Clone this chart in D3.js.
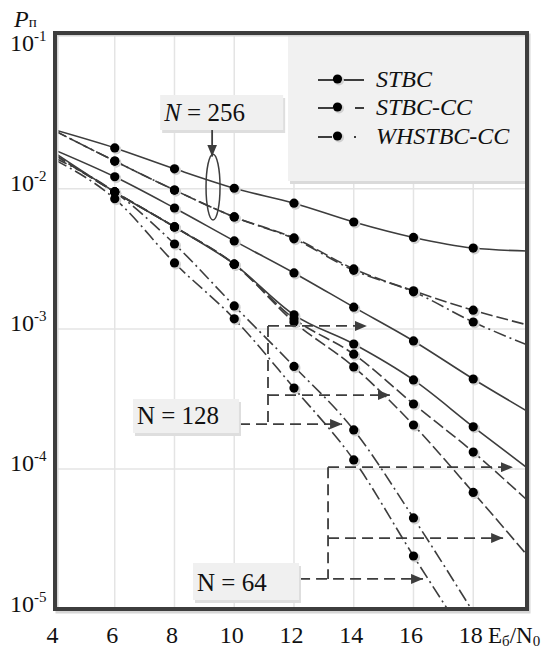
<!DOCTYPE html>
<html>
<head>
<meta charset="utf-8">
<script src="https://cdn.jsdelivr.net/npm/d3@7"></script>
<style>
  body { margin: 0; background: #fff; }
  text { font-family: "Liberation Serif", "Times New Roman", serif; fill: #111; }
</style>
</head>
<body>
<svg id="chart"></svg>
<script>
// Eb/N0 sample points (19.8 = right edge of the frame)
const snr = [4, 6, 8, 10, 12, 14, 16, 18, 19.8];

// N = 256
const stbc256 = [2.63e-2, 1.96e-2, 1.39e-2, 1.01e-2, 7.9e-3, 5.8e-3, 4.5e-3, 3.78e-3, 3.6e-3];
const stbcCC256 = [2.59e-2, 1.58e-2, 9.8e-3, 6.3e-3, 4.46e-3, 2.68e-3, 1.87e-3, 1.36e-3, 1.07e-3];
const whstbc256 = [2.59e-2, 1.58e-2, 9.8e-3, 6.3e-3, 4.4e-3, 2.62e-3, 1.84e-3, 1.12e-3, 7.7e-4];
// N = 128
const stbc128 = [1.89e-2, 1.22e-2, 7.3e-3, 4.25e-3, 2.51e-3, 1.43e-3, 8.2e-4, 4.39e-4, 2.59e-4];
const stbcCC128 = [1.74e-2, 9.5e-3, 5.35e-3, 2.9e-3, 1.18e-3, 6.6e-4, 2.91e-4, 1.32e-4, 6.0e-5];
const whstbc128 = [1.66e-2, 9.5e-3, 4.04e-3, 1.46e-3, 5.4e-4, 1.9e-4, 4.47e-5, 9.5e-6, null];
// N = 64
const stbc64 = [1.8e-2, 9.5e-3, 5.35e-3, 2.9e-3, 1.26e-3, 7.8e-4, 4.32e-4, 2.0e-4, 1.02e-4];
const stbcCC64 = [1.74e-2, 9.5e-3, 5.35e-3, 2.9e-3, 1.12e-3, 5.35e-4, 2.06e-4, 6.8e-5, 2.43e-5];
const whstbc64 = [1.61e-2, 8.5e-3, 2.96e-3, 1.18e-3, 3.78e-4, 1.16e-4, 2.39e-5, 5.2e-6, null];

const xTicks = [4, 6, 8, 10, 12, 14, 16, 18];
const yTicks = [1e-5, 1e-4, 1e-3, 1e-2, 1e-1];
const yExponents = ["-5", "-4", "-3", "-2", "-1"];
const schemes = ["STBC", "STBC-CC", "WHSTBC-CC"];

const width = 550;
const height = 650;
const ink = "#3d3d3d";

const dashes = { "STBC": null, "STBC-CC": "12,4", "WHSTBC-CC": "13,4,2,4" };

const series = [
  { scheme: "STBC", values: stbc256 },
  { scheme: "STBC-CC", values: stbcCC256 },
  { scheme: "WHSTBC-CC", values: whstbc256 },
  { scheme: "STBC", values: stbc128 },
  { scheme: "STBC-CC", values: stbcCC128 },
  { scheme: "WHSTBC-CC", values: whstbc128 },
  { scheme: "STBC", values: stbc64 },
  { scheme: "STBC-CC", values: stbcCC64 },
  { scheme: "WHSTBC-CC", values: whstbc64 }
];

// Scales
const x = d3.scaleLinear().domain([4, 19.8]).range([55, 527]);
const y = d3.scaleLog().domain([1e-5, Math.pow(10, -0.88)]).range([609, 32]);

const [plotLeft, plotRight] = x.range();
const [plotBottom, plotTop] = y.range();

const svg = d3.select("#chart").attr("width", width).attr("height", height);

const defs = svg.append("defs");
defs.append("clipPath").attr("id", "plot")
  .append("rect")
  .attr("x", plotLeft).attr("y", plotTop)
  .attr("width", plotRight - plotLeft).attr("height", plotBottom - plotTop);

defs.append("marker")
  .attr("id", "head")
  .attr("viewBox", "0 0 12 10")
  .attr("refX", 12).attr("refY", 5)
  .attr("markerWidth", 12).attr("markerHeight", 10)
  .attr("markerUnits", "userSpaceOnUse")
  .attr("orient", "auto")
  .append("path")
  .attr("d", "M0,0L12,5L0,10Z")
  .attr("fill", ink);

// Grid
svg.append("g")
  .selectAll("line")
  .data(xTicks.slice(1))
  .join("line")
  .attr("x1", (d) => x(d)).attr("x2", (d) => x(d))
  .attr("y1", plotTop).attr("y2", plotBottom)
  .attr("stroke", "#e4e4e4").attr("stroke-width", 1.5);

svg.append("g")
  .selectAll("line")
  .data([1e-4, 1e-3, 1e-2])
  .join("line")
  .attr("x1", plotLeft).attr("x2", plotRight)
  .attr("y1", (d) => y(d)).attr("y2", (d) => y(d))
  .attr("stroke", "#e4e4e4").attr("stroke-width", 1.5);

// Legend box (drawn under the curves, over the grid)
svg.append("rect")
  .attr("x", 290).attr("y", 35).attr("width", 237).attr("height", 149)
  .attr("fill", "#dadada");
svg.append("rect")
  .attr("x", 288).attr("y", 33).attr("width", 237).attr("height", 148)
  .attr("fill", "#f1f1f1");

// Curves
const line = d3.line()
  .defined((d) => d.v != null)
  .x((d) => x(d.x))
  .y((d) => y(d.v))
  .curve(d3.curveMonotoneX);

const curves = svg.append("g").attr("clip-path", "url(#plot)");

curves.selectAll("path")
  .data(series)
  .join("path")
  .attr("d", (s) => line(s.values.map((v, i) => ({ x: snr[i], v: v }))))
  .attr("fill", "none")
  .attr("stroke", ink)
  .attr("stroke-width", 1.6)
  .attr("stroke-dasharray", (s) => dashes[s.scheme]);

// Markers at 6..18 dB
const points = [];
series.forEach((s) => {
  s.values.forEach((v, i) => {
    if (v != null && snr[i] >= 6 && snr[i] <= 18 && v >= 1e-5) points.push({ x: snr[i], v: v });
  });
});

curves.selectAll("circle.shadow")
  .data(points)
  .join("circle")
  .attr("class", "shadow")
  .attr("cx", (d) => x(d.x) + 1.5)
  .attr("cy", (d) => y(d.v) + 1.5)
  .attr("r", 5)
  .attr("fill", "#d0d0d0");

curves.selectAll("circle.dot")
  .data(points)
  .join("circle")
  .attr("class", "dot")
  .attr("cx", (d) => x(d.x))
  .attr("cy", (d) => y(d.v))
  .attr("r", 4.6)
  .attr("fill", "#000");

// Frame
svg.append("rect")
  .attr("x", plotLeft + 2).attr("y", plotTop + 3)
  .attr("width", plotRight - plotLeft).attr("height", plotBottom - plotTop)
  .attr("fill", "none").attr("stroke", "#d6d6d6").attr("stroke-width", 3);
svg.append("rect")
  .attr("x", plotLeft).attr("y", plotTop + 1)
  .attr("width", plotRight - plotLeft).attr("height", plotBottom - plotTop - 1)
  .attr("fill", "none").attr("stroke", ink).attr("stroke-width", 4);

// Axes
const xAxis = svg.append("g")
  .attr("transform", "translate(-3, 643)")
  .call(d3.axisBottom(x).tickValues(xTicks).tickSize(0).tickPadding(0));
xAxis.select(".domain").remove();
xAxis.selectAll("text")
  .attr("y", 0).attr("dy", 0)
  .attr("font-size", 24)
  .attr("font-family", "Liberation Serif, serif")
  .attr("fill", "#111");

const yAxis = svg.append("g")
  .call(d3.axisLeft(y).tickValues(yTicks).tickSize(0).tickFormat(() => ""));
yAxis.select(".domain").remove();
yAxis.selectAll("text")
  .attr("x", 10).attr("y", 2).attr("dy", 0)
  .attr("text-anchor", "start")
  .attr("font-size", 24)
  .attr("font-family", "Liberation Serif, serif")
  .attr("fill", "#111")
  .each(function (d, i) {
    const t = d3.select(this);
    t.append("tspan").text("10");
    t.append("tspan").attr("font-size", 15).attr("dy", -10).text(yExponents[i]);
  });

// Axis titles
const yTitle = svg.append("text").attr("x", 14).attr("y", 27).attr("font-size", 24);
yTitle.append("tspan").attr("font-style", "italic").text("P");
yTitle.append("tspan").attr("font-size", 15).text("п");

const xTitle = svg.append("text").attr("x", 488).attr("y", 643).attr("font-size", 23);
xTitle.append("tspan").text("E");
xTitle.append("tspan").attr("font-size", 15).attr("dy", 3).text("б");
xTitle.append("tspan").attr("dy", -3).text("/N");
xTitle.append("tspan").attr("font-size", 15).attr("dy", 3).text("0");

// Legend entries
const legendRows = [79, 107, 136];
const legendDash = { "STBC": null, "STBC-CC": "15,22,12,60", "WHSTBC-CC": "14,22,2,60" };
const legend = svg.append("g")
  .selectAll("g")
  .data(schemes)
  .join("g")
  .attr("transform", (d, i) => "translate(0," + legendRows[i] + ")");

legend.append("line")
  .attr("x1", 318).attr("x2", 364)
  .attr("y1", 1).attr("y2", 1)
  .attr("stroke", ink).attr("stroke-width", 2.2)
  .attr("stroke-dasharray", (d) => legendDash[d]);
legend.append("circle").attr("cx", 339).attr("cy", 1.5).attr("r", 5).attr("fill", "#d0d0d0");
legend.append("circle").attr("cx", 337.5).attr("cy", 0).attr("r", 4.6).attr("fill", "#000");
legend.append("text")
  .attr("x", 376).attr("y", 8)
  .attr("font-size", 24)
  .attr("font-style", "italic")
  .text((d) => d);

// Group labels
function labelBox(x0, v0, w, h, parts) {
  const bx = x(x0);
  const by = y(v0);
  svg.append("rect").attr("x", bx + 2).attr("y", by + 3).attr("width", w).attr("height", h).attr("fill", "#dedede");
  svg.append("rect").attr("x", bx).attr("y", by).attr("width", w).attr("height", h).attr("fill", "#f0f0f0");
  const t = svg.append("text").attr("x", bx + 4).attr("y", by + h - 9).attr("font-size", 25);
  parts.forEach((p) => t.append("tspan").attr("font-style", p[1] ? "italic" : null).text(p[0]));
}

function dashed(pts, arrow) {
  svg.append("path")
    .attr("d", d3.line()(pts.map((p) => [x(p[0]), y(p[1])])))
    .attr("fill", "none")
    .attr("stroke", ink)
    .attr("stroke-width", 1.8)
    .attr("stroke-dasharray", "11,6")
    .attr("marker-end", arrow ? "url(#head)" : null);
}

// N = 256
labelBox(7.52, 4.68e-2, 123, 35, [["N", true], [" = 256", false]]);
svg.append("line")
  .attr("x1", x(9.26)).attr("x2", x(9.26))
  .attr("y1", y(2.63e-2)).attr("y2", y(1.7e-2))
  .attr("stroke", ink).attr("stroke-width", 1.8)
  .attr("marker-end", "url(#head)");
svg.append("ellipse")
  .attr("cx", x(9.29))
  .attr("cy", (y(1.77e-2) + y(6.0e-3)) / 2)
  .attr("rx", 7)
  .attr("ry", (y(6.0e-3) - y(1.77e-2)) / 2)
  .attr("fill", "none").attr("stroke", ink).attr("stroke-width", 1.5);

// N = 128
dashed([[11.13, 1.05e-3], [11.13, 2.09e-4]], false);
dashed([[11.13, 1.05e-3], [14.44, 1.05e-3]], true);
dashed([[11.13, 3.37e-4], [15.21, 3.37e-4]], true);
dashed([[10.16, 2.09e-4], [13.61, 2.09e-4]], true);
labelBox(6.61, 3.16e-4, 106, 34, [["N = 128", false]]);

// N = 64
dashed([[13.14, 1.03e-4], [13.14, 1.64e-5]], false);
dashed([[13.14, 1.03e-4], [19.33, 1.03e-4]], true);
dashed([[13.14, 3.21e-5], [19.0, 3.21e-5]], true);
dashed([[12.17, 1.64e-5], [16.32, 1.64e-5]], true);
labelBox(8.62, 2.13e-5, 106, 37, [["N = 64", false]]);
</script>
</body>
</html>
